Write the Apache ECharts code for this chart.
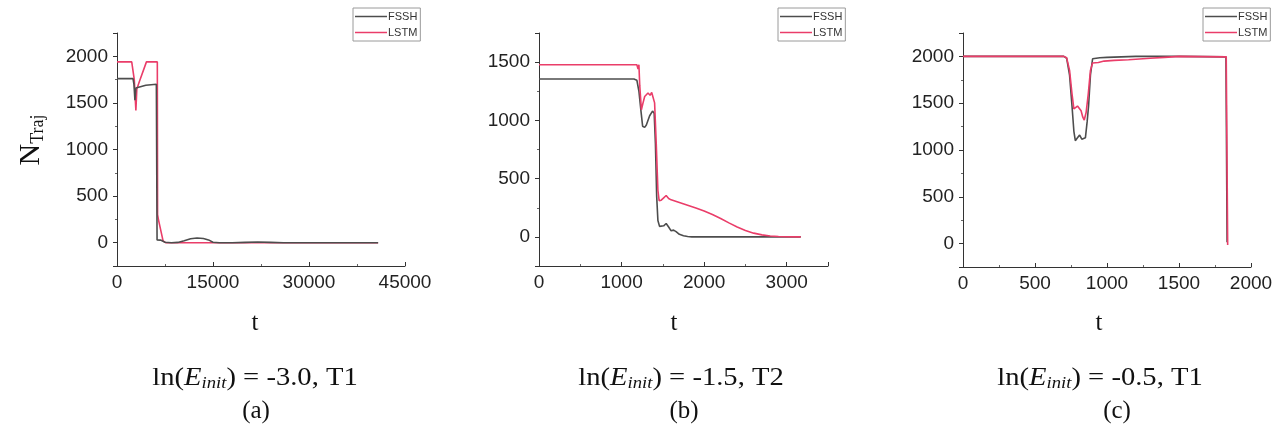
<!DOCTYPE html>
<html>
<head>
<meta charset="utf-8">
<script src="https://cdn.jsdelivr.net/npm/echarts@6/dist/echarts.min.js"></script>
<style>
  html, body { margin: 0; padding: 0; background: #ffffff; }
  #chart { width: 1287px; height: 435px; }
</style>
</head>
<body>
<div id="chart"></div>
<script>
// Trajectory counts N_Traj over time t, FSSH reference vs LSTM prediction.
const seriesNames = ['FSSH', 'LSTM'];

// (a) ln(E_init) = -3.0, T1
const tFsshA = [0, 2500, 2650, 2800, 2950, 3200, 4500, 6150, 6220, 6260, 6800, 7500, 8500, 9500, 10500, 11500, 12500, 13500, 14300, 15000, 16000, 18000, 20000, 22000, 24000, 26000, 30000, 34000, 38000, 40800];
const nFsshA = [1760, 1760, 1700, 1530, 1660, 1680, 1690, 1700, 1700, 30, 28, 5, 0, 3, 22, 42, 50, 45, 30, 5, 0, 0, 4, 8, 4, 0, 0, 0, 0, 0];
const tLstmA = [0, 2300, 2500, 2700, 2950, 3100, 3500, 4600, 6300, 6340, 6500, 7200, 7600, 9000, 15000, 25000, 35000, 40800];
const nLstmA = [1940, 1940, 1920, 1750, 1420, 1650, 1730, 1940, 1940, 300, 240, 20, 0, 0, 0, 0, 0, 0];

// (b) ln(E_init) = -1.5, T2
const tFsshB = [0, 1150, 1185, 1210, 1235, 1255, 1280, 1300, 1340, 1375, 1395, 1410, 1425, 1440, 1460, 1480, 1510, 1540, 1570, 1600, 1630, 1660, 1700, 1750, 1800, 1850, 2500, 3170];
const nFsshB = [1355, 1355, 1345, 1250, 1080, 950, 940, 960, 1040, 1080, 1060, 800, 350, 140, 90, 80, 95, 115, 85, 52, 58, 45, 22, 10, 3, 0, 0, 0];
const tLstmB = [0, 1185, 1200, 1210, 1220, 1240, 1260, 1280, 1300, 1320, 1345, 1365, 1385, 1400, 1420, 1440, 1455, 1480, 1510, 1540, 1570, 1600, 1700, 1800, 1900, 2000, 2100, 2200, 2300, 2400, 2500, 2600, 2700, 2800, 2900, 3000, 3170];
const nLstmB = [1478, 1478, 1440, 1478, 1300, 1090, 1150, 1205, 1215, 1235, 1215, 1240, 1250, 1150, 800, 400, 310, 315, 335, 355, 330, 318, 295, 272, 248, 222, 192, 158, 120, 85, 55, 32, 17, 8, 3, 1, 0];

// (c) ln(E_init) = -0.5, T1
const tFsshC = [0, 700, 720, 740, 757, 770, 780, 795, 810, 825, 835, 850, 862, 872, 885, 900, 950, 1000, 1200, 1500, 1826, 1834];
const nFsshC = [2000, 2000, 1980, 1800, 1470, 1200, 1100, 1130, 1160, 1115, 1095, 1130, 1300, 1470, 1800, 1975, 1985, 1990, 2000, 2000, 1995, 15];
const tLstmC = [0, 700, 720, 740, 757, 770, 780, 795, 808, 820, 832, 842, 855, 870, 885, 900, 910, 940, 980, 1050, 1150, 1300, 1400, 1500, 1828, 1838];
const nLstmC = [2000, 2000, 1985, 1850, 1600, 1440, 1430, 1470, 1487, 1420, 1350, 1320, 1400, 1600, 1850, 1930, 1940, 1935, 1950, 1958, 1965, 1980, 1990, 2000, 1995, -15];

// axis ranges and label steps per panel
const xMax = [45000, 3500, 2000];
const xStep = [15000, 1000, 500];
const yMin = [-250, -250, -250];
const yMax = [2250, 1750, 2250];
const yLabelStep = 500;
const captionValues = ['-3.0, T1', '-1.5, T2', '-0.5, T1'];
const panelTags = ['(a)', '(b)', '(c)'];

const pairs = (ts, ns) => ts.map((t, i) => [t, ns[i]]);
const fsshData = [pairs(tFsshA, nFsshA), pairs(tFsshB, nFsshB), pairs(tFsshC, nFsshC)];
const lstmData = [pairs(tLstmA, nLstmA), pairs(tLstmB, nLstmB), pairs(tLstmC, nLstmC)];

const gridBoxes = [
  { left: 117, top: 33, width: 288, height: 233 },
  { left: 539, top: 33, width: 289, height: 233 },
  { left: 963, top: 33, width: 288, height: 234 }
];
const legendLeft = [353, 778, 1203];
const titleCenterX = [255, 681, 1100];
const tagCenterX = [256, 684, 1117];
const tCenterX = [255, 674, 1099];

const axisColor = '#333333';
const tickFont = { fontSize: 19, fontFamily: 'Liberation Sans, Arial, sans-serif', color: '#222222' };
const fsshColor = '#4d4d4d';
const lstmColor = '#ea3d69';

const xAxes = gridBoxes.map((g, i) => ({
  type: 'value', gridIndex: i, min: 0, max: xMax[i], interval: xStep[i],
  splitLine: { show: false },
  axisLine: { onZero: false, lineStyle: { color: axisColor, width: 1 } },
  axisTick: { inside: true, length: 4, lineStyle: { color: axisColor } },
  minorTick: { show: true, splitNumber: 2, length: 2, lineStyle: { color: '#666' } },
  axisLabel: Object.assign({ margin: 7, formatter: v => (v % xStep[i] === 0 ? String(v) : '') }, tickFont)
}));

const yAxes = gridBoxes.map((g, i) => ({
  type: 'value', gridIndex: i, min: yMin[i], max: yMax[i], splitNumber: 5,
  splitLine: { show: false },
  axisLine: { show: true, onZero: false, lineStyle: { color: axisColor, width: 1 } },
  axisTick: { show: true, inside: false, length: 4, lineStyle: { color: axisColor } },
  minorTick: { show: true, splitNumber: 2, length: 2, lineStyle: { color: '#666' } },
  axisLabel: Object.assign({ margin: 9, formatter: v => (v % yLabelStep === 0 ? String(v) : '') }, tickFont)
}));

const series = [];
gridBoxes.forEach((g, i) => {
  series.push({
    name: 'LSTM', type: 'line', xAxisIndex: i, yAxisIndex: i, symbol: 'none',
    z: i === 0 ? 2 : 4, lineStyle: { color: lstmColor, width: 1.6 }, itemStyle: { color: lstmColor },
    data: lstmData[i], animation: false
  });
  series.push({
    name: 'FSSH', type: 'line', xAxisIndex: i, yAxisIndex: i, symbol: 'none',
    z: 3, lineStyle: { color: fsshColor, width: 1.6 }, itemStyle: { color: fsshColor },
    data: fsshData[i], animation: false
  });
});

const legends = legendLeft.map(l => ({
  data: seriesNames.map(n => ({ name: n, icon: 'rect' })),
  orient: 'vertical', left: l, top: 8,
  itemWidth: 32, itemHeight: 1.5, itemGap: 3, padding: [2, 3, 2, 2],
  borderColor: '#9a9a9a', borderWidth: 1, selectedMode: false,
  textStyle: { fontSize: 11, lineHeight: 13, fontFamily: 'Liberation Sans, Arial, sans-serif', color: '#333', padding: [0, 0, 0, -4] }
}));

const serif = 'Liberation Serif, Times New Roman, serif';
const captionRich = {
  n: { fontSize: 26, fontFamily: serif, fill: '#111' },
  i: { fontSize: 26, fontFamily: serif, fontStyle: 'italic', fill: '#111' },
  s: { fontSize: 17, fontFamily: serif, fontStyle: 'italic', fill: '#111', padding: [12, 0, 0, 0] }
};

const graphics = [{
  type: 'text', x: 31, y: 140, rotation: Math.PI / 2,
  style: {
    text: '{n|N}{s|Traj}', align: 'center', verticalAlign: 'middle',
    rich: {
      n: { fontSize: 30, fontFamily: serif, fill: '#111' },
      s: { fontSize: 18, fontFamily: serif, fill: '#111', padding: [14, 0, 0, 0] }
    }
  }
}];
gridBoxes.forEach((g, i) => {
  graphics.push({
    type: 'text', x: tCenterX[i], y: 323,
    style: { text: 't', align: 'center', verticalAlign: 'middle', font: '25px ' + serif, fill: '#111' }
  });
  graphics.push({
    type: 'text', x: titleCenterX[i], y: 378, scaleX: 1.1,
    style: {
      text: '{n|ln(}{i|E}{s|init}{n|) = ' + captionValues[i] + '}',
      align: 'center', verticalAlign: 'middle', rich: captionRich
    }
  });
  graphics.push({
    type: 'text', x: tagCenterX[i], y: 411,
    style: { text: panelTags[i], align: 'center', verticalAlign: 'middle', font: '25px ' + serif, fill: '#111' }
  });
});

const chart = echarts.init(document.getElementById('chart'), null, { renderer: 'canvas' });
chart.setOption({
  backgroundColor: '#ffffff',
  animation: false,
  grid: gridBoxes,
  xAxis: xAxes,
  yAxis: yAxes,
  legend: legends,
  series: series,
  graphic: graphics
});
</script>
</body>
</html>
